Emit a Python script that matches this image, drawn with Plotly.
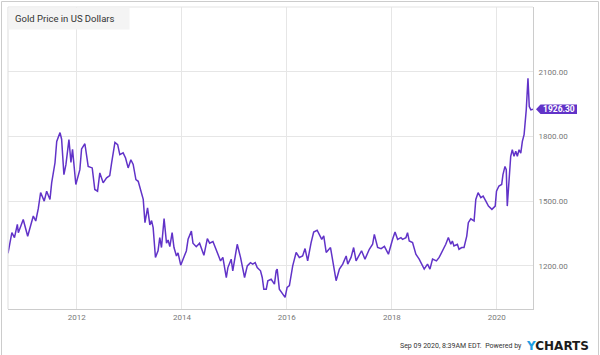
import plotly.graph_objects as go

dates = [
    "2010-09-09", "2010-10-06", "2010-10-24", "2010-11-13", "2010-11-20", "2010-12-24",
    "2011-01-24", "2011-03-04", "2011-03-21", "2011-04-08", "2011-04-24", "2011-05-19",
    "2011-06-05", "2011-06-28", "2011-07-10", "2011-08-02", "2011-08-14", "2011-09-06",
    "2011-09-17", "2011-10-03", "2011-10-17", "2011-11-07", "2011-11-21", "2011-12-02",
    "2011-12-25", "2012-01-22", "2012-02-03", "2012-02-26", "2012-03-20", "2012-04-17",
    "2012-05-05", "2012-05-24", "2012-06-09", "2012-07-02", "2012-07-26", "2012-08-17",
    "2012-08-30", "2012-09-22", "2012-10-11", "2012-10-26", "2012-11-18", "2012-12-05",
    "2012-12-23", "2013-01-11", "2013-01-27", "2013-02-15", "2013-03-03", "2013-04-07",
    "2013-04-19", "2013-05-07", "2013-05-23", "2013-06-04", "2013-06-15", "2013-07-01",
    "2013-07-19", "2013-07-31", "2013-08-12", "2013-08-30", "2013-09-16", "2013-09-27",
    "2013-10-09", "2013-10-25", "2013-11-07", "2013-11-24", "2013-12-05", "2013-12-24",
    "2014-01-09", "2014-02-01", "2014-02-13", "2014-03-08", "2014-03-19", "2014-04-11",
    "2014-05-04", "2014-06-03", "2014-06-27", "2014-07-13", "2014-08-05", "2014-08-28",
    "2014-09-27", "2014-10-13", "2014-11-06", "2014-11-17", "2014-12-10", "2014-12-21",
    "2015-01-21", "2015-02-13", "2015-02-22", "2015-03-13", "2015-04-01", "2015-04-23",
    "2015-05-09", "2015-05-26", "2015-06-09", "2015-07-02", "2015-07-14", "2015-07-25",
    "2015-08-11", "2015-08-22", "2015-09-14", "2015-10-07", "2015-10-19", "2015-10-26",
    "2015-11-10", "2015-12-03", "2015-12-20", "2016-01-03", "2016-01-19", "2016-02-11",
    "2016-02-23", "2016-03-06", "2016-03-28", "2016-04-20", "2016-05-07", "2016-05-25",
    "2016-06-18", "2016-07-06", "2016-07-30", "2016-08-15", "2016-08-31", "2016-09-14",
    "2016-10-01", "2016-10-31", "2016-12-09", "2017-01-01", "2017-01-24", "2017-02-17",
    "2017-02-28", "2017-03-23", "2017-04-10", "2017-04-27", "2017-05-19", "2017-06-04",
    "2017-06-28", "2017-07-28", "2017-08-20", "2017-09-01", "2017-09-24", "2017-10-18",
    "2017-11-10", "2017-12-08", "2018-01-06", "2018-01-23", "2018-02-10", "2018-03-05",
    "2018-03-16", "2018-04-09", "2018-04-20", "2018-05-02", "2018-05-25", "2018-06-17",
    "2018-07-10", "2018-08-14", "2018-09-06", "2018-09-23", "2018-10-11", "2018-11-07",
    "2018-11-26", "2018-12-19", "2019-01-11", "2019-01-29", "2019-02-15", "2019-02-26",
    "2019-03-09", "2019-04-02", "2019-04-13", "2019-05-02", "2019-05-18", "2019-06-06",
    "2019-06-17", "2019-07-04", "2019-07-27", "2019-08-08", "2019-08-24", "2019-09-12",
    "2019-09-28", "2019-10-17", "2019-11-04", "2019-11-28", "2019-12-21", "2019-12-30",
    "2020-01-16", "2020-02-04", "2020-02-13", "2020-02-27", "2020-03-07", "2020-03-14",
    "2020-03-26", "2020-04-07", "2020-04-18", "2020-04-30", "2020-05-12", "2020-05-23",
    "2020-06-04", "2020-06-16", "2020-06-27", "2020-07-09", "2020-07-24", "2020-08-05",
    "2020-08-14", "2020-08-25", "2020-09-08",
]

prices = [
    1258, 1354, 1331, 1392, 1354, 1415,
    1337, 1431, 1408, 1466, 1540, 1500,
    1546, 1508, 1586, 1678, 1777, 1818,
    1787, 1623, 1669, 1785, 1680, 1740,
    1577, 1646, 1742, 1766, 1661, 1654,
    1554, 1546, 1631, 1585, 1608, 1618,
    1677, 1772, 1762, 1716, 1724, 1700,
    1654, 1692, 1670, 1600, 1592, 1508,
    1400, 1469, 1390, 1410, 1377, 1239,
    1270, 1331, 1285, 1419, 1305, 1320,
    1289, 1354, 1285, 1246, 1260, 1203,
    1231, 1269, 1323, 1361, 1305, 1289,
    1305, 1249, 1326, 1305, 1313, 1274,
    1223, 1239, 1146, 1192, 1231, 1177,
    1300, 1239, 1208, 1146, 1200, 1215,
    1208, 1215, 1192, 1177, 1146, 1092,
    1092, 1131, 1138, 1115, 1177, 1185,
    1092, 1069, 1054, 1100, 1108, 1200,
    1239, 1262, 1239, 1246, 1280, 1223,
    1308, 1357, 1365, 1347, 1323, 1339,
    1262, 1285, 1131, 1185, 1208, 1246,
    1208, 1239, 1285, 1223, 1254, 1270,
    1231, 1277, 1300, 1346, 1285, 1280,
    1290, 1254, 1323, 1357, 1323, 1331,
    1323, 1331, 1354, 1315, 1308, 1254,
    1231, 1185, 1208, 1185, 1231, 1223,
    1239, 1269, 1300, 1331, 1300, 1315,
    1292, 1300, 1277, 1285, 1285, 1338,
    1400, 1418, 1408, 1508, 1539, 1516,
    1523, 1500, 1477, 1462, 1477, 1546,
    1570, 1577, 1623, 1661, 1646, 1477,
    1623, 1708, 1738, 1708, 1731, 1708,
    1738, 1723, 1777, 1808, 1923, 2069,
    1938, 1923, 1926.30,
]

y_ticks = [1200, 1500, 1800, 2100]
x_range = ["2010-09-09", "2020-09-09"]
y_range = [1000, 2400]
series_name = "Gold Price in US Dollars"
footer_text = "Sep 09 2020, 8:39AM EDT.  Powered by"

LINE = "#6133c8"
W, H = 600, 355
ML, MR, MT, MB = 8, 67, 7, 46
PW, PH = W - ML - MR, H - MT - MB


def px_x(p):
    return (p - ML) / PW


def px_y(p):
    return (H - MB - p) / PH


fig = go.Figure()
fig.add_trace(go.Scatter(
    x=dates, y=prices, mode="lines", name=series_name,
    line=dict(color=LINE, width=1.5), showlegend=False,
))

last_val = prices[-1]

fig.update_layout(
    width=W, height=H,
    margin=dict(l=ML, r=MR, t=MT, b=MB),
    paper_bgcolor="white", plot_bgcolor="white",
    font=dict(family="Roboto", size=8, color="#666666"),
    xaxis=dict(
        type="date", range=x_range, tick0="2012-01-01", dtick="M24",
        tickformat="%Y", showgrid=True, gridcolor="#e6e6e6", gridwidth=1,
        showline=True, linecolor="#cccccc", linewidth=1, ticks="",
        zeroline=False, tickfont=dict(family="Roboto", size=8, color="#777777"),
    ),
    yaxis=dict(
        range=y_range, side="right", tickvals=y_ticks, tickformat=".2f",
        showgrid=True, gridcolor="#e6e6e6", gridwidth=1,
        showline=True, linecolor="#cccccc", linewidth=1, ticks="",
        zeroline=False, tickfont=dict(family="Roboto", size=8, color="#777777"),
        ticklabelstandoff=3,
    ),
    shapes=[
        # outer border
        dict(type="rect", xref="paper", yref="paper",
             x0=px_x(1.5), x1=px_x(598.5), y0=px_y(356), y1=px_y(1.5),
             line=dict(color="#cccccc", width=1), fillcolor="rgba(0,0,0,0)", layer="below"),
        # top & left frame of plot area
        dict(type="line", xref="paper", yref="paper", x0=0, x1=1, y0=1, y1=1,
             line=dict(color="#e3e3e3", width=1)),
        dict(type="line", xref="paper", yref="paper", x0=0, x1=0, y0=0, y1=1,
             line=dict(color="#dddddd", width=1)),
        # legend box
        dict(type="rect", xref="paper", yref="paper",
             x0=px_x(8.5), x1=px_x(129.5), y0=px_y(29.5), y1=px_y(7.5),
             line=dict(width=0), fillcolor="#f4f4f4", layer="above"),
        # last value tag
        dict(type="path", xref="paper", yref="y", xsizemode="pixel", ysizemode="pixel",
             xanchor=1, yanchor=last_val,
             path="M 3 0 L 7.5 4.8 L 44 4.8 L 44 -4.8 L 7.5 -4.8 Z",
             fillcolor=LINE, line=dict(width=0)),
    ],
    annotations=[
        dict(xref="paper", yref="paper", x=px_x(13), y=px_y(19), xanchor="left",
             yanchor="middle", showarrow=False, text=series_name,
             font=dict(family="Roboto", size=9.5, color="#333333")),
        dict(xref="paper", yref="y", x=1, y=last_val, xanchor="left", yanchor="middle",
             xshift=8, showarrow=False, text="<b>%.2f</b>" % last_val,
             font=dict(family="Roboto", size=8.5, color="white")),
        dict(xref="paper", yref="paper", x=px_x(523.5), y=px_y(345.5), xanchor="right",
             yanchor="middle", showarrow=False, text=footer_text,
             font=dict(family="Roboto", size=7, color="#333333")),
        dict(xref="paper", yref="paper", x=px_x(524), y=px_y(345.5), xanchor="left",
             yanchor="middle", showarrow=False,
             text="<b><span style='color:#1e9ee3'>Y</span>CHARTS</b>",
             font=dict(family="DejaVu Sans", size=12, color="#1c1c1c")),
    ],
)

fig.write_html(
    "out.html",
    config={"displayModeBar": False},
    post_script="document.body.style.margin='0px';document.body.style.padding='0px';",
)
